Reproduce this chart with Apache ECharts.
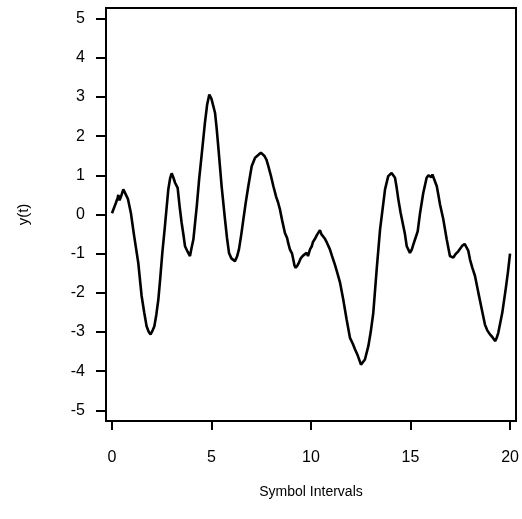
<!DOCTYPE html>
<html>
<head>
<meta charset="utf-8">
<script src="https://cdn.jsdelivr.net/npm/echarts@6/dist/echarts.min.js"></script>
<style>
  html, body { margin: 0; padding: 0; background: #fff; }
  #chart { width: 522px; height: 519px; }
</style>
</head>
<body>
<div id="chart"></div>
<script>
var xVals = [0.0, 0.1, 0.2, 0.28, 0.32, 0.38, 0.45, 0.57, 0.65, 0.8, 0.95, 1.1, 1.32, 1.49, 1.62, 1.74, 1.85, 1.94, 2.05, 2.13,
  2.23, 2.33, 2.43, 2.53, 2.66, 2.83, 2.92, 3.0, 3.08, 3.17, 3.3, 3.4, 3.5, 3.6, 3.67, 3.8, 3.92, 4.0, 4.09, 4.26,
  4.38, 4.5, 4.67, 4.78, 4.89, 5.0, 5.1, 5.18, 5.26, 5.34, 5.51, 5.68, 5.78, 5.88, 6.0, 6.1, 6.18, 6.28, 6.38, 6.5,
  6.6, 6.72, 6.85, 7.02, 7.19, 7.35, 7.48, 7.55, 7.65, 7.76, 7.86, 7.98, 8.11, 8.25, 8.35, 8.44, 8.55, 8.69, 8.8, 8.85,
  8.94, 9.05, 9.11, 9.17, 9.23, 9.32, 9.4, 9.48, 9.53, 9.6, 9.7, 9.78, 9.85, 9.95, 10.04, 10.1, 10.2, 10.3, 10.38, 10.45,
  10.52, 10.62, 10.7, 10.8, 10.95, 11.05, 11.2, 11.3, 11.46, 11.62, 11.79, 11.96, 12.1, 12.21, 12.35, 12.51, 12.6, 12.71, 12.88, 13.0,
  13.13, 13.3, 13.47, 13.6, 13.72, 13.88, 14.05, 14.15, 14.22, 14.3, 14.39, 14.5, 14.64, 14.72, 14.81, 14.97, 15.06, 15.14, 15.25, 15.36,
  15.48, 15.64, 15.81, 15.9, 15.98, 16.05, 16.1, 16.15, 16.32, 16.4, 16.48, 16.65, 16.82, 16.98, 17.15, 17.25, 17.35, 17.4, 17.5, 17.6,
  17.65, 17.72, 17.82, 17.9, 17.99, 18.1, 18.24, 18.41, 18.58, 18.74, 18.85, 18.99, 19.1, 19.18, 19.25, 19.33, 19.41, 19.61, 19.78, 19.9,
  20.0];
var yVals = [0.03, 0.08, 0.3, 0.42, 0.5, 0.36, 0.45, 0.64, 0.66, 0.4, 0.04, -0.5, -1.23, -2.08, -2.5, -2.85, -3.0, -3.06, -2.95, -2.85,
  -2.55, -2.17, -1.6, -0.98, -0.3, 0.64, 0.92, 1.05, 0.95, 0.81, 0.68, 0.2, -0.21, -0.55, -0.81, -0.95, -1.06, -0.85, -0.64, 0.21,
  0.9, 1.49, 2.34, 2.8, 3.06, 2.95, 2.75, 2.59, 2.2, 1.74, 0.72, -0.13, -0.6, -0.98, -1.12, -1.15, -1.19, -1.08, -0.89, -0.5,
  -0.13, 0.3, 0.72, 1.23, 1.45, 1.52, 1.58, 1.61, 1.5, 1.4, 1.23, 1.0, 0.72, 0.45, 0.3, 0.13, -0.15, -0.47, -0.6, -0.72,
  -0.89, -1.0, -1.15, -1.3, -1.36, -1.3, -1.22, -1.12, -1.16, -1.05, -1.02, -0.98, -1.06, -0.89, -0.81, -0.7, -0.62, -0.52, -0.48, -0.4,
  -0.5, -0.55, -0.62, -0.72, -0.89, -1.05, -1.28, -1.45, -1.74, -2.17, -2.68, -3.15, -3.3, -3.44, -3.6, -3.83, -3.78, -3.7, -3.36, -3.0,
  -2.51, -1.4, -0.38, 0.15, 0.64, 0.98, 1.06, 1.02, 0.94, 0.7, 0.38, 0.05, -0.3, -0.5, -0.81, -0.98, -0.9, -0.77, -0.6, -0.43,
  0.04, 0.55, 0.94, 1.0, 1.02, 0.95, 1.02, 0.98, 0.72, 0.5, 0.26, -0.13, -0.64, -1.06, -1.1, -1.02, -0.98, -0.94, -0.9, -0.8,
  -0.81, -0.75, -0.77, -0.92, -1.15, -1.35, -1.57, -2.0, -2.42, -2.81, -2.95, -3.06, -3.12, -3.1, -3.23, -3.15, -3.02, -2.51, -1.91, -1.45,
  -1.0];
var xTicks = [0, 5, 10, 15, 20];
var yTicks = [-5, -4, -3, -2, -1, 0, 1, 2, 3, 4, 5];

var points = xVals.map(function (x, i) { return [x, yVals[i]]; });
var font = 'Liberation Sans, Arial, Helvetica, sans-serif';

var chart = echarts.init(document.getElementById('chart'));
chart.setOption({
  animation: false,
  backgroundColor: '#fff',
  grid: {
    left: 106, right: 6, top: 8, bottom: 98,
    show: true, borderColor: '#000', borderWidth: 2, backgroundColor: 'transparent'
  },
  xAxis: {
    type: 'value',
    min: -0.3, max: 20.3,
    name: 'Symbol Intervals',
    nameLocation: 'middle',
    nameGap: 64,
    nameTextStyle: { color: '#000', fontSize: 14, fontFamily: font },
    axisLine: { show: true, onZero: false, lineStyle: { color: '#000', width: 2 } },
    axisTick: { show: true, customValues: xTicks, length: 9, lineStyle: { color: '#000', width: 2 } },
    axisLabel: { customValues: xTicks, margin: 29, color: '#000', fontSize: 16, fontFamily: font },
    splitLine: { show: false }
  },
  yAxis: {
    type: 'value',
    min: -5.27, max: 5.27,
    name: 'y(t)',
    nameLocation: 'middle',
    nameGap: 75,
    nameTextStyle: { color: '#000', fontSize: 15, fontFamily: font },
    axisLine: { show: true, onZero: false, lineStyle: { color: '#000', width: 2 } },
    axisTick: { show: true, customValues: yTicks, length: 10, lineStyle: { color: '#000', width: 2 } },
    axisLabel: { customValues: yTicks, margin: 21, color: '#000', fontSize: 16, fontFamily: font },
    splitLine: { show: false }
  },
  series: [{
    type: 'line',
    data: points,
    showSymbol: false,
    smooth: false,
    lineStyle: { color: '#000', width: 2.6 }
  }]
});
</script>
</body>
</html>
